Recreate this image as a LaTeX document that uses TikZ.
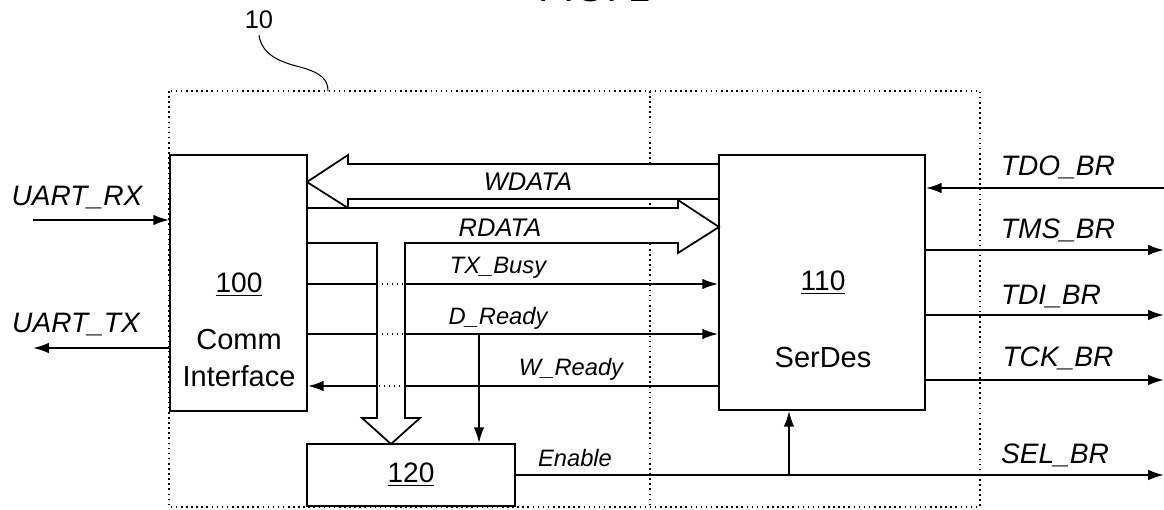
\documentclass[tikz,border=0pt]{standalone}
\usepackage{fontspec}
\setmainfont{Liberation Sans}
\usetikzlibrary{arrows.meta,positioning,calc}
\tikzset{
 blk/.style={draw,line width=1pt,inner sep=0pt},
 wire/.style={line width=1.1pt},
 sig/.style={wire,-{Latex[length=9pt,width=6pt]}},
 cross/.style={line width=.8pt,dotted},
 bus/.style={draw,fill=white,line width=1pt,line join=miter},
 lab/.style={font=\fontsize{16}{19}\selectfont\itshape},
 slab/.style={font=\fontsize{13.5}{16}\selectfont\itshape},
 blab/.style={font=\fontsize{14.5}{17}\selectfont\itshape},
 txt/.style={font=\fontsize{16.5}{21}\selectfont,align=center}
}
\begin{document}
\begin{tikzpicture}[x=.02cm,y=-.02cm,>=Latex]
\useasboundingbox (0,0) rectangle (1164,510);
\node[font=\fontsize{23}{27}\selectfont,anchor=base,inner sep=0pt] (fig) at (595,2){FIG. 1};
% block 10
\draw[line width=.9pt,dotted] (169,91) rectangle (980,507);
\draw[line width=.9pt,dotted] (650,91) -- (650,507);
\node[font=\fontsize{14.5}{17}\selectfont] (ten) at (259,20){10};
\draw[line width=.6pt] (ten.south) .. controls (262,55) and (280,62) .. (300,67) .. controls (322,73) and (328,80) .. (328,91);
% WDATA / RDATA buses
\draw[bus] (719,164) -- (348,164) -- (348,155) -- (307,182) -- (348,208) -- (348,199) -- (719,199);
\draw[bus] (307,208) -- (678,208) -- (678,200) -- (719,227) -- (678,253) -- (678,243) -- (405,243) -- (405,418) -- (420,418) -- (391,444) -- (362,418) -- (377,418) -- (377,243) -- (307,243);
\node[blab] (wdata) at (528,182){WDATA};
\node[blab] (rdata) at (500,228){RDATA};
\coordinate (busL) at (377,243); \coordinate (busR) at (405,243);
% blocks
\node[blk,minimum width=2.74cm,minimum height=5.12cm] (comm) at (238.5,283){};
\node[blk,minimum width=4.12cm,minimum height=5.1cm] (serdes) at (822,282.5){};
\node[blk,minimum width=4.16cm,minimum height=1.24cm] (blk120) at (411,475){};
\node[font=\fontsize{16}{19}\selectfont] (n100) at (239,285){\underline{100}};
\node[txt] (commtxt) at (239,358){Comm\\Interface};
\node[font=\fontsize{16}{19}\selectfont] (n110) at (823,283){\underline{110}};
\node[txt] (serdestxt) at (823,358){SerDes};
\node[font=\fontsize{16}{19}\selectfont] (n120) at (411,475){\underline{120}};
% UART side
\coordinate (uartrx) at (33,220); \coordinate (uarttx) at (33,348);
\draw[sig] (uartrx) -- (comm.west |- uartrx);
\draw[sig] (comm.west |- uarttx) -- (uarttx);
\node[lab] (rxlab) at (77,198){UART\_RX};
\node[lab] (txlab) at (76,325){UART\_TX};
% handshake lines
\foreach \nm/\y in {txb/284,dry/334,wry/386}{\coordinate (\nm) at (0,\y);}
\foreach \nm in {txb,dry}{
 \draw[wire] (comm.east |- \nm) -- (busL |- \nm);
 \draw[cross] (busL |- \nm) -- (busR |- \nm);
 \draw[sig] (busR |- \nm) -- (serdes.west |- \nm);}
\draw[wire] (serdes.west |- wry) -- (busR |- wry);
\draw[cross] (busR |- wry) -- (busL |- wry);
\draw[sig] (busL |- wry) -- (comm.east |- wry);
\coordinate (drtap) at (479,334);
\draw[sig] (drtap) -- (drtap |- blk120.north);
\node[slab] (txblab) at (498,268){TX\_Busy};
\node[slab] (drylab) at (498,318){D\_Ready};
\node[slab] (wrylab) at (571,369){W\_Ready};
% enable / select
\coordinate (selout) at (1164,475); \coordinate (entap) at (789,475);
\draw[sig] (blk120.east) -- (selout);
\draw[sig] (entap) -- (entap |- serdes.south);
\node[slab] (enlab) at (575,458){Enable};
% JTAG side
\coordinate (tdo) at (1164,188);
\draw[sig] (tdo) -- (serdes.east |- tdo);
\foreach \nm/\y in {tms/250,tdi/315,tck/380}{
 \coordinate (\nm) at (1164,\y);
 \draw[sig] (serdes.east |- \nm) -- (\nm);}
\node[lab] (tdolab) at (1058,167){TDO\_BR};
\node[lab] (tmslab) at (1058,230){TMS\_BR};
\node[lab] (tdilab) at (1051,297){TDI\_BR};
\node[lab] (tcklab) at (1058,358){TCK\_BR};
\node[lab] (sellab) at (1055,455){SEL\_BR};
\end{tikzpicture}
\end{document}
